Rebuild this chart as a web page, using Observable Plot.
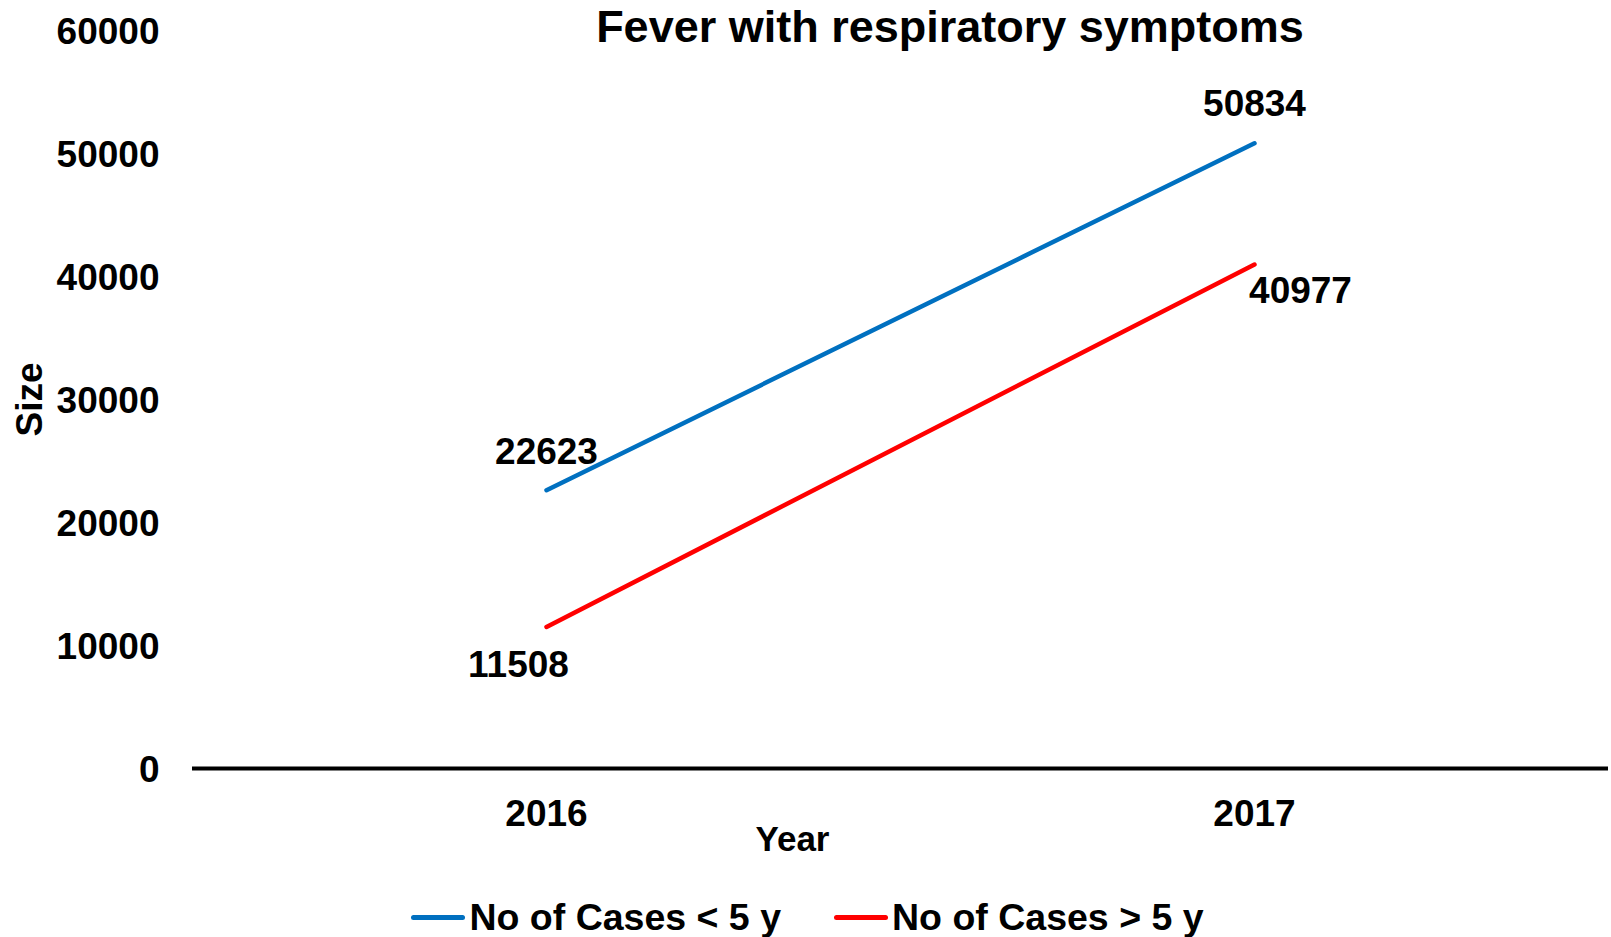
<!DOCTYPE html>
<html>
<head>
<meta charset="utf-8">
<script src="https://cdn.jsdelivr.net/npm/d3@7"></script>
<script src="https://cdn.jsdelivr.net/npm/@observablehq/plot@0.6"></script>
<style>
  html, body { margin: 0; padding: 0; background: #fff; }
  body { width: 1611px; height: 937px; position: relative; overflow: hidden;
         font-family: "Liberation Sans", Arial, sans-serif; font-weight: bold; color: #000; }
  #title { position: absolute; top: 1px; left: 950px; transform: translateX(-50%);
           font-size: 45px; white-space: nowrap; }
  #legend { position: absolute; top: 897px; left: 0; width: 1615px; height: 40px;
            display: flex; justify-content: center; align-items: center; gap: 53px; font-size: 37.5px; }
  .item { display: flex; align-items: center; gap: 4px; white-space: nowrap; }
  .sw { width: 54px; height: 5px; border-radius: 3px; }
</style>
</head>
<body>
<div id="chart"></div>
<div id="title"></div>
<div id="legend"></div>
<script>
const titleText = "Fever with respiratory symptoms";
const years = ["2016", "2017"];
const under5 = [22623, 50834];
const over5 = [11508, 40977];
const seriesNames = ["No of Cases < 5 y", "No of Cases > 5 y"];
const seriesColors = ["#0070C0", "#FF0000"];
const yTicks = [0, 10000, 20000, 30000, 40000, 50000, 60000];
const xLabel = "Year";
const yLabel = "Size";

const rows = [];
years.forEach((yr, i) => {
  rows.push({year: yr, value: under5[i], series: seriesNames[0]});
  rows.push({year: yr, value: over5[i], series: seriesNames[1]});
});
const pick = (s, yr) => rows.filter(d => d.series === s && d.year === yr);

document.getElementById("title").textContent = titleText;

const chart = Plot.plot({
  width: 1611,
  height: 880,
  marginTop: 30,
  marginBottom: 112,
  marginLeft: 192,
  marginRight: 3,
  style: {fontFamily: "'Liberation Sans', Arial, sans-serif", fontSize: "37px", fontWeight: "bold", color: "#000", background: "#fff"},
  x: {type: "point", domain: years, padding: 0.5},
  y: {domain: [0, 60000]},
  color: {domain: seriesNames, range: seriesColors},
  marks: [
    Plot.axisY({ticks: yTicks, tickSize: 0, tickPadding: 33, tickFormat: d => String(d), dy: 1.5,
                label: yLabel, labelAnchor: "center", labelOffset: 177, labelArrow: "none", fontSize: 37}),
    Plot.axisX({tickSize: 0, tickPadding: 31, label: null, fontSize: 37}),
    Plot.text([xLabel], {frameAnchor: "bottom", dx: -108, dy: 71, lineAnchor: "middle", fontSize: 35}),
    Plot.ruleY([0], {stroke: "#000", strokeWidth: 4}),
    Plot.line(rows, {x: "year", y: "value", z: "series", stroke: "series", strokeWidth: 4.5}),
    Plot.text(pick(seriesNames[0], years[0]), {x: "year", y: "value", text: d => String(d.value), dy: -38, fontSize: 37}),
    Plot.text(pick(seriesNames[0], years[1]), {x: "year", y: "value", text: d => String(d.value), dy: -39, fontSize: 37}),
    Plot.text(pick(seriesNames[1], years[0]), {x: "year", y: "value", text: d => String(d.value), dx: -28, dy: 38, fontSize: 37}),
    Plot.text(pick(seriesNames[1], years[1]), {x: "year", y: "value", text: d => String(d.value), dx: 46, dy: 27, fontSize: 37})
  ]
});
document.getElementById("chart").appendChild(chart);

const legend = document.getElementById("legend");
seriesNames.forEach((name, i) => {
  const item = document.createElement("div");
  item.className = "item";
  const sw = document.createElement("span");
  sw.className = "sw";
  sw.style.background = seriesColors[i];
  const label = document.createElement("span");
  label.textContent = name;
  item.appendChild(sw);
  item.appendChild(label);
  legend.appendChild(item);
});
</script>
</body>
</html>
